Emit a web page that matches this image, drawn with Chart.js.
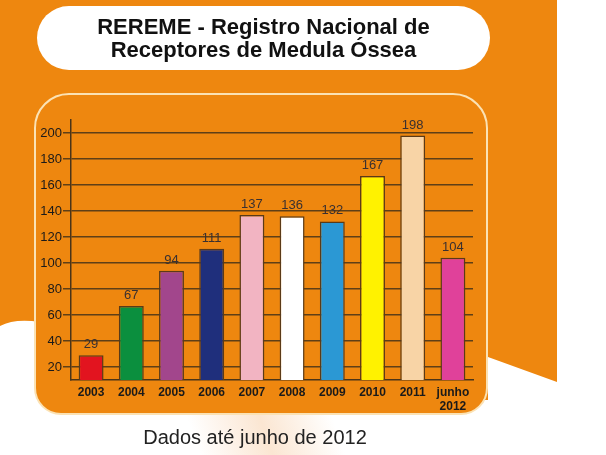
<!DOCTYPE html>
<html>
<head>
<meta charset="utf-8">
<script src="https://cdn.jsdelivr.net/npm/chart.js@4/dist/chart.umd.min.js"></script>
<style>
  body { margin: 0; background: #fff; }
  #wrap { position: relative; width: 606px; height: 455px; overflow: hidden; }
  #titleBox {
    position: absolute; left: 37px; top: 6px; width: 453px; height: 64px;
    background: #fff; border-radius: 32px;
    display: flex; align-items: center; justify-content: center; text-align: center;
    font: bold 22px "Liberation Sans", Arial, sans-serif; line-height: 23px; color: #111;
  }
  #footer {
    position: absolute; left: 0; width: 510px; top: 426px; text-align: center;
    font: 20px "Liberation Sans", Arial, sans-serif; color: #222;
  }
</style>
</head>
<body>
<div id="wrap">
  <canvas id="rereme" width="606" height="455"></canvas>
  <div id="titleBox">REREME - Registro Nacional de<br>Receptores de Medula Óssea</div>
  <div id="footer">Dados até junho de 2012</div>
</div>
<script>
const periodos = ["2003", "2004", "2005", "2006", "2007", "2008", "2009", "2010", "2011", ["junho", "2012"]];
const receptores = [29, 67, 94, 111, 137, 136, 132, 167, 198, 104];
const coresBarras = ["#e2141f", "#0b8f3e", "#a2468c", "#1f2f7c", "#f2b4c2", "#ffffff", "#2b98d4", "#fff200", "#f8d4a6", "#e0419a"];
const yTicks = [20, 40, 60, 80, 100, 120, 140, 160, 180, 200];

const ORANGE = "#ee870f";

// background, white corners and the rounded chart frame
const fundo = {
  id: "fundo",
  beforeDraw(chart) {
    const ctx = chart.ctx;
    ctx.save();
    ctx.fillStyle = "#fff";
    ctx.fillRect(0, 0, chart.width, chart.height);

    const g = ctx.createLinearGradient(200, 455, 330, 410);
    g.addColorStop(0, "#fff");
    g.addColorStop(0.5, "#fbe6d2");
    g.addColorStop(1, "#fff");
    ctx.fillStyle = g;
    ctx.fillRect(0, 400, 520, 55);

    ctx.fillStyle = ORANGE;
    ctx.beginPath();
    ctx.moveTo(0, 0);
    ctx.lineTo(557, 0);
    ctx.lineTo(557, 382);
    ctx.lineTo(488, 357);
    ctx.lineTo(488, 400);
    ctx.lineTo(40, 400);
    ctx.lineTo(40, 322);
    ctx.quadraticCurveTo(15, 318, 0, 326);
    ctx.closePath();
    ctx.fill();

    ctx.fillStyle = ORANGE;
    ctx.beginPath();
    ctx.roundRect(35, 94, 452, 320, [34, 34, 26, 26]);
    ctx.fill();
    ctx.strokeStyle = "#fbe2b4";
    ctx.lineWidth = 2;
    ctx.stroke();
    ctx.restore();
  },
};

// numbers above the bars
const rotulos = {
  id: "rotulos",
  afterDatasetsDraw(chart) {
    const ctx = chart.ctx;
    const meta = chart.getDatasetMeta(0);
    ctx.save();
    ctx.font = '13px "Liberation Sans", Arial, sans-serif';
    ctx.fillStyle = "#3a3030";
    ctx.textAlign = "center";
    ctx.textBaseline = "bottom";
    meta.data.forEach((bar, i) => {
      ctx.fillText(receptores[i], bar.x, bar.y - 4);
    });
    ctx.restore();
  },
};

const ctx = document.getElementById("rereme").getContext("2d");
const chart = new Chart(ctx, {
  type: "bar",
  data: {
    labels: periodos,
    datasets: [
      {
        data: receptores,
        backgroundColor: coresBarras,
        borderColor: "#5a3a18",
        borderWidth: 1.5,
        barPercentage: 0.62,
        categoryPercentage: 1,
      },
    ],
  },
  options: {
    responsive: false,
    animation: false,
    events: [],
    layout: { padding: { left: 31, right: 133, top: 120, bottom: 45 } },
    plugins: {
      legend: { display: false },
      tooltip: { enabled: false },
    },
    scales: {
      x: {
        afterFit(scale) { scale.height = 30; },
        grid: { display: false, drawTicks: false },
        border: { display: true, color: "#4a3418", width: 1.5 },
        ticks: {
          color: "#1a1a1a",
          padding: 6,
          font: { size: 12, weight: "bold", family: '"Liberation Sans", Arial, sans-serif', lineHeight: 1.15 },
        },
      },
      y: {
        min: 10,
        max: 210,
        afterFit(scale) { scale.width = 40; },
        afterBuildTicks(axis) {
          axis.ticks = yTicks.map((v) => ({ value: v }));
        },
        grid: { color: "#5e3f17", lineWidth: 1.5, tickLength: 8 },
        border: { display: true, color: "#4a3418", width: 1.5 },
        ticks: {
          color: "#1a1a1a",
          padding: 1,
          font: { size: 13, family: '"Liberation Sans", Arial, sans-serif' },
        },
      },
    },
  },
  plugins: [fundo, rotulos],
});
</script>
</body>
</html>
